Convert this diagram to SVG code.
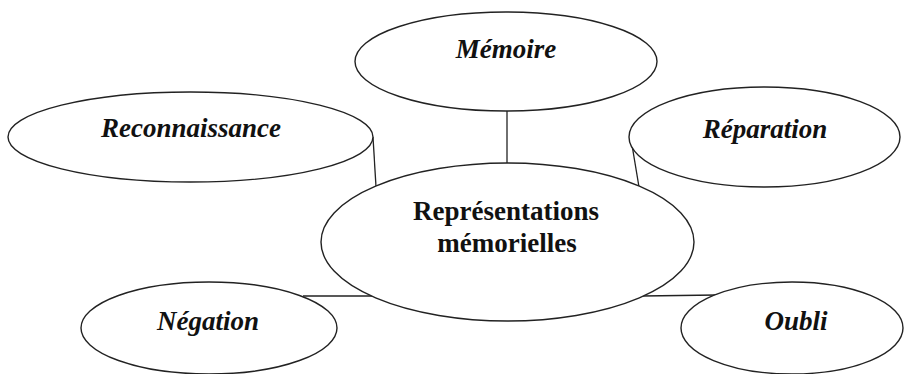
<svg xmlns="http://www.w3.org/2000/svg" width="905" height="374" viewBox="0 0 905 374">
<style>
.node ellipse{fill:#fff;stroke:#222;stroke-width:1.4}
.lbl{font-family:"Liberation Serif","Times New Roman",serif;font-size:27px;font-weight:bold;font-style:italic;fill:#111;text-anchor:middle}
.main{font-family:"Liberation Serif","Times New Roman",serif;font-size:27px;font-weight:bold;fill:#111;text-anchor:middle}
#connectors line{stroke:#222;stroke-width:1.3}
</style>
<rect width="905" height="374" fill="#fff"/>
<g id="connectors">
<line x1="507" y1="111" x2="507" y2="163"/>
<line x1="373" y1="137" x2="376" y2="187"/>
<line x1="631" y1="139" x2="639" y2="187"/>
<line x1="303" y1="296" x2="372" y2="296"/>
<line x1="642" y1="296" x2="717" y2="295"/>
</g>
<g id="memoire" class="node"><ellipse cx="506" cy="61.5" rx="151" ry="49.5"/><text class="lbl" x="506" y="58">Mémoire</text></g>
<g id="reconnaissance" class="node"><ellipse cx="190.5" cy="137" rx="182.5" ry="45"/><text class="lbl" x="191" y="137">Reconnaissance</text></g>
<g id="reparation" class="node"><ellipse cx="764.5" cy="137" rx="135.5" ry="50"/><text class="lbl" x="765" y="138">Réparation</text></g>
<g id="negation" class="node"><ellipse cx="209" cy="328" rx="128" ry="46"/><text class="lbl" x="208" y="330">Négation</text></g>
<g id="oubli" class="node"><ellipse cx="792" cy="328" rx="111" ry="46"/><text class="lbl" x="796" y="330">Oubli</text></g>
<g id="center" class="node"><ellipse cx="507.5" cy="242" rx="186.5" ry="79"/><text class="main" x="506" y="220">Représentations</text><text class="main" x="507" y="252">mémorielles</text></g>
</svg>
